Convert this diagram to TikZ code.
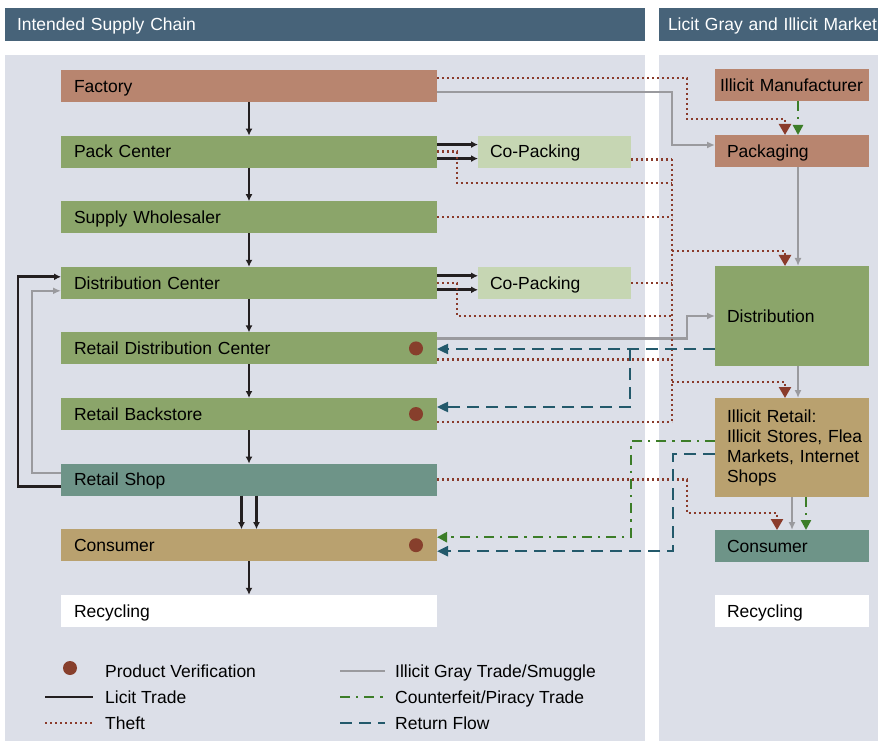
\documentclass[tikz,border=0pt]{standalone}
\usepackage{fontspec}
\setmainfont{Liberation Sans}
\usetikzlibrary{positioning,arrows.meta}

\definecolor{hdrblue}{HTML}{476379}
\definecolor{panelgray}{HTML}{DCDFE8}
\definecolor{brick}{HTML}{B8856F}
\definecolor{leaf}{HTML}{8BA56A}
\definecolor{pale}{HTML}{C6D6B3}
\definecolor{slate}{HTML}{6E9488}
\definecolor{tan}{HTML}{B9A16F}
\definecolor{licitblack}{HTML}{231F20}
\definecolor{smuggray}{HTML}{9A9A9E}
\definecolor{theftred}{HTML}{8A3B2B}
\definecolor{fakegreen}{HTML}{3C7D28}
\definecolor{retblue}{HTML}{23596B}
\definecolor{dotbrown}{HTML}{873F2C}

\newcommand{\boxfont}{\fontsize{17.5}{20}\selectfont}

\tikzset{
  header/.style={rectangle, fill=hdrblue, text=white, minimum height=33pt, inner xsep=12pt, inner ysep=0pt, align=left, font=\boxfont, text height=12.6pt, text depth=0pt},
  stage/.style={rectangle, minimum height=32pt, inner xsep=13pt, inner ysep=0pt, outer sep=0pt, text width=350pt, align=left, font=\boxfont, text height=12.6pt, text depth=0pt},
  side/.style={stage, inner xsep=12pt, text width=129pt},
  vdot/.style={circle, fill=dotbrown, minimum size=14pt, inner sep=0pt},
  legtext/.style={anchor=base west, inner sep=0pt, font=\boxfont},
  licitline/.style={draw=licitblack, line width=2.6pt},
  smuggleline/.style={draw=smuggray, line width=2.2pt},
  theftline/.style={draw=theftred, line width=2.4pt, dash pattern=on 2.4pt off 2.6pt},
  fakeline/.style={draw=fakegreen, line width=2.4pt, dash pattern=on 10pt off 6pt on 2.4pt off 6pt},
  retline/.style={draw=retblue, line width=2.4pt, dash pattern=on 12pt off 7pt},
  licit/.style={licitline, -{Latex[length=7pt,width=7pt]}},
  smuggle/.style={smuggleline, -{Latex[length=8pt,width=7pt]}},
  theft/.style={theftline, -{Triangle[length=11pt,width=12pt]}},
  fake/.style={fakeline, -{Triangle[length=10pt,width=10pt]}},
  ret/.style={retline, -{Triangle[length=11pt,width=10pt]}}
}

\begin{document}
\begin{tikzpicture}[x=1pt,y=1pt]
\useasboundingbox (0,0) rectangle (878,-743);
\fill[white] (0,0) rectangle (878,-743);
\fill[panelgray] (5,-55) rectangle (645,-741);
\fill[panelgray] (659,-55) rectangle (878,-741);

\node (hleft) [header, minimum width=640pt, text width=616pt] at (325,-24.5) {Intended Supply Chain};
\node (hright) [header, minimum width=219pt, text width=201pt, inner xsep=9pt] at (768.5,-24.5) {\mbox{Licit Gray and Illicit Market}};

\node (factory) [stage, fill=brick] at (249,-86) {Factory};
\node (pack) [stage, fill=leaf, below=33.6pt of factory] {Pack Center};
\node (whole) [stage, fill=leaf, below=33.6pt of pack] {Supply Wholesaler};
\node (dc) [stage, fill=leaf, below=33.6pt of whole] {Distribution Center};
\node (rdc) [stage, fill=leaf, below=33.6pt of dc] {Retail Distribution Center};
\node (back) [stage, fill=leaf, below=33.6pt of rdc] {Retail Backstore};
\node (shop) [stage, fill=slate, below=33.6pt of back] {Retail Shop};
\node (cons) [stage, fill=tan, below=33.6pt of shop] {Consumer};
\node (recyc) [stage, fill=white, below=33.6pt of cons] {Recycling};

\node (copack1) [side, fill=pale, right=41pt of pack] {Co-Packing};
\node (copack2) [side, fill=pale, right=41pt of dc] {Co-Packing};

\node (imanu) [side, fill=brick, inner xsep=5pt, text width=144pt] at (792,-85) {\mbox{Illicit Manufacturer}};
\node (ipack) [side, fill=brick, text width=130pt, below=34pt of imanu] {Packaging};
\node (idist) [side, fill=leaf, text width=130pt, minimum height=100pt, below=99pt of ipack] {Distribution};
\node (iretail) [side, fill=tan, text width=130pt, minimum height=99pt, text height=, text depth=, below=32pt of idist] {Illicit Retail:\\\mbox{Illicit Stores, Flea}\\\mbox{Markets, Internet}\\Shops};
\node (icons) [side, fill=slate, text width=130pt, below=33pt of iretail] {Consumer};
\node (irecyc) [side, fill=white, text width=130pt, below=33pt of icons] {Recycling};

\node (dotrdc) [vdot] at ([xshift=-21pt]rdc.east) {};
\node (dotback) [vdot] at ([xshift=-21pt]back.east) {};
\node (dotcons) [vdot] at ([xshift=-21pt]cons.east) {};

\draw[licit] (factory) -- (pack);
\draw[licit] (pack) -- (whole);
\draw[licit] (whole) -- (dc);
\draw[licit] (dc) -- (rdc);
\draw[licit] (rdc) -- (back);
\draw[licit] (back) -- (shop);
\draw[licit] ([xshift=-7.5pt]shop.south) -- ([xshift=-7.5pt]cons.north);
\draw[licit] ([xshift=7.5pt]shop.south) -- ([xshift=7.5pt]cons.north);
\draw[licit] (cons) -- (recyc);
\draw[licit] ([yshift=7pt]pack.east) -- ([yshift=7pt]copack1.west);
\draw[licit] ([yshift=-7pt]pack.east) -- ([yshift=-7pt]copack1.west);
\draw[licit] ([yshift=7pt]dc.east) -- ([yshift=7pt]copack2.west);
\draw[licit] ([yshift=-7pt]dc.east) -- ([yshift=-7pt]copack2.west);
\draw[licit] ([yshift=-7pt]shop.west) -- ++(-43pt,0) |- ([yshift=6pt]dc.west);

\draw[smuggle] ([yshift=7pt]shop.west) -- ++(-29pt,0) |- ([yshift=-8pt]dc.west);
\draw[smuggle] ([yshift=-6pt]factory.east) -| ([xshift=-43pt,yshift=6pt]ipack.west) -- ([yshift=6pt]ipack.west);
\draw[smuggle] ([yshift=10pt]rdc.east) -- ++(250pt,0) |- (idist.west);
\draw[smuggle] ([xshift=6pt]ipack.south) -- ([xshift=6pt]idist.north);
\draw[smuggle] ([xshift=6pt]idist.south) -- ([xshift=6pt]iretail.north);
\draw[smuggle] (iretail) -- (icons);

\coordinate (tTop) at (672,-159);
\coordinate (tPack) at (672,-183);
\coordinate (tDist) at (672,-251);
\coordinate (tRetail) at (672,-382);
\coordinate (tBot) at (672,-422);
\draw[theft] ([yshift=8pt]factory.east) -- ++(250pt,0) |- ([xshift=-7pt,yshift=16pt]ipack.north) -- ([xshift=-7pt]ipack.north);
\draw[theftline] (pack.east) -- ++(20pt,0) |- (tPack);
\draw[theftline] ([yshift=-8pt]copack1.east) -- ++(41pt,0);
\draw[theftline] (whole.east) -- (whole.east -| tTop);
\draw[theftline] (copack2.east) -- ++(41pt,0);
\draw[theftline] (dc.east) -- ++(20pt,0) |- (idist.west -| tTop);
\draw[theftline] ([yshift=-11pt]rdc.east) -- ++(235pt,0);
\draw[theftline] ([yshift=-8pt]back.east) -- ++(235pt,0);
\draw[theftline] (tTop) -- (tBot);
\draw[theft] (tDist) -| ([xshift=-7pt]idist.north);
\draw[theft] (tRetail) -| ([xshift=-7pt]iretail.north);
\draw[theft] (shop.east) -- ++(250pt,0) |- ([xshift=-15pt,yshift=17pt]icons.north) -- ([xshift=-15pt]icons.north);

\coordinate (retA) at ([yshift=-33pt]idist.west);
\coordinate (retB) at ([yshift=-6.5pt]iretail.west);
\coordinate (fakeA) at ([yshift=6.5pt]iretail.west);
\draw[ret] (retA) -- (retA -| rdc.east);
\draw[ret] ([xshift=-85pt]retA) |- ([yshift=7pt]back.east);
\draw[ret] (retB) -| ([xshift=236pt,yshift=-6pt]cons.east) -- ([yshift=-6pt]cons.east);
\draw[fake] (fakeA) -| ([xshift=194pt,yshift=8pt]cons.east) -- ([yshift=8pt]cons.east);
\draw[fake] ([xshift=6pt]imanu.south) -- ([xshift=6pt]ipack.north);
\draw[fake] ([xshift=14pt]iretail.south) -- ([xshift=14pt]icons.north);

\node (legdot) [vdot] at (70,-668) {};
\node (legver) [legtext] at (105,-677) {Product Verification};
\node (leglicit) [legtext] at (105,-703) {Licit Trade};
\node (legtheft) [legtext] at (105,-729) {Theft};
\node (legsmug) [legtext] at (395,-677) {Illicit Gray Trade/Smuggle};
\node (legfake) [legtext] at (395,-703) {Counterfeit/Piracy Trade};
\node (legret) [legtext] at (395,-729) {Return Flow};
\draw[licitline] ([xshift=-60pt,yshift=6pt]leglicit.base west) -- ([xshift=-12pt,yshift=6pt]leglicit.base west);
\draw[theftline] ([xshift=-60pt,yshift=6pt]legtheft.base west) -- ([xshift=-12pt,yshift=6pt]legtheft.base west);
\draw[smuggleline] ([xshift=-55pt,yshift=6pt]legsmug.base west) -- ([xshift=-10pt,yshift=6pt]legsmug.base west);
\draw[fakeline] ([xshift=-55pt,yshift=6pt]legfake.base west) -- ([xshift=-10pt,yshift=6pt]legfake.base west);
\draw[retline] ([xshift=-55pt,yshift=6pt]legret.base west) -- ([xshift=-10pt,yshift=6pt]legret.base west);
\end{tikzpicture}
\end{document}
